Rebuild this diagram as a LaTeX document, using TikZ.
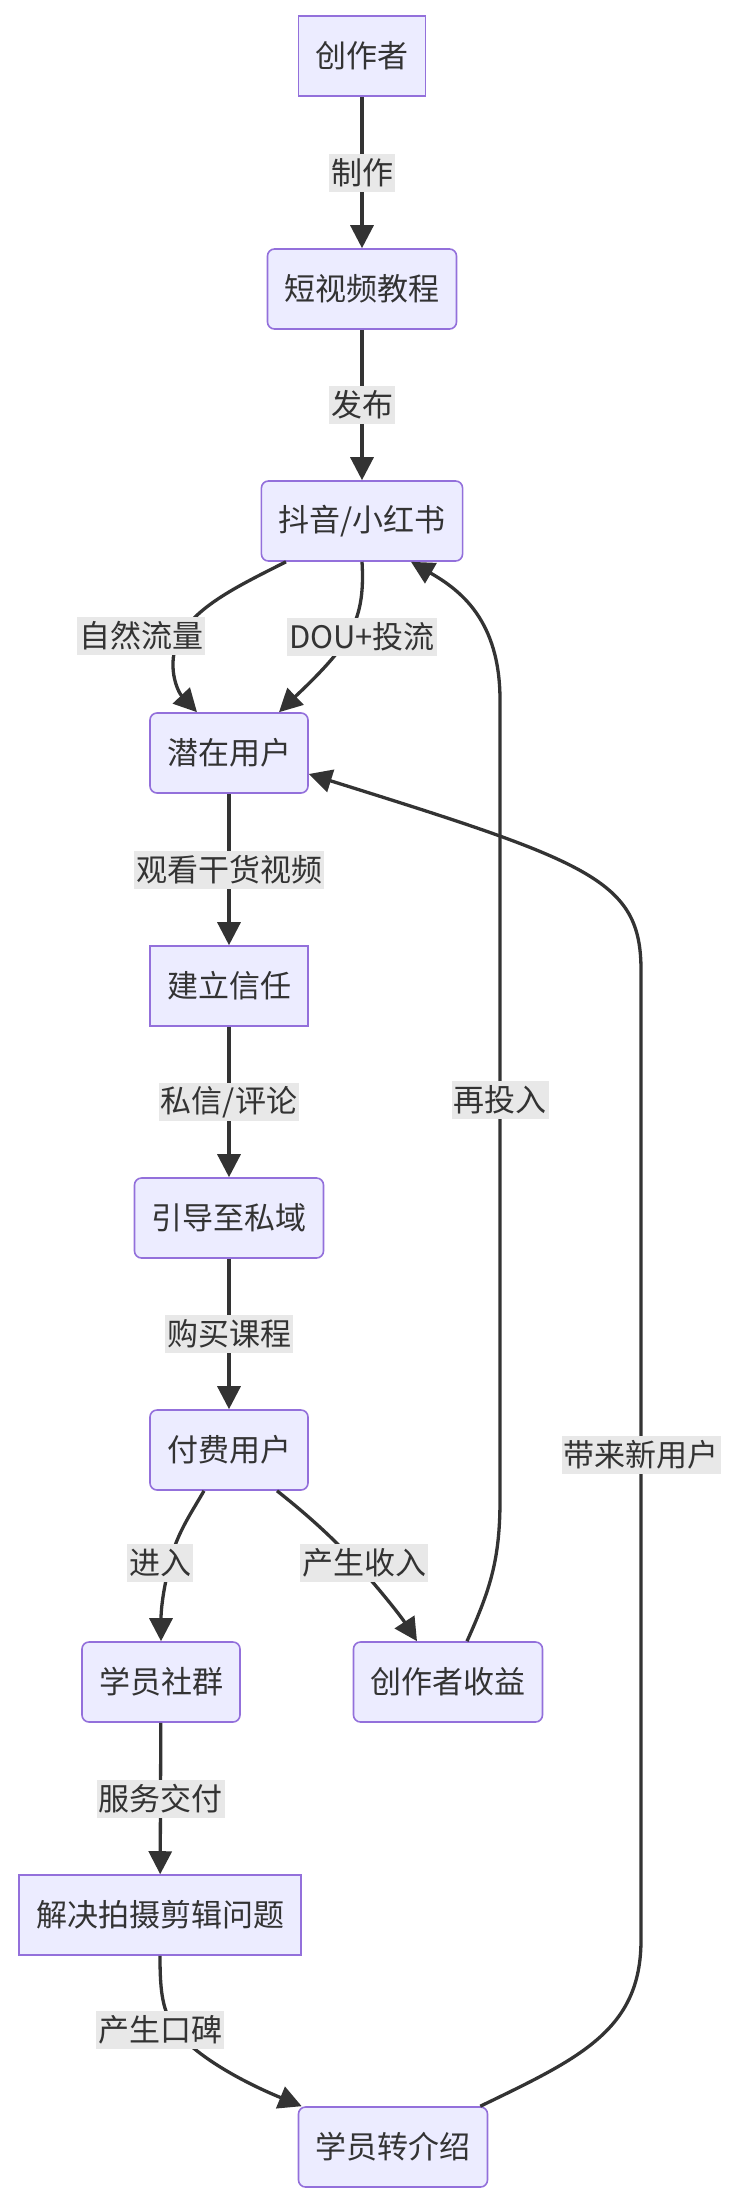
\documentclass[tikz,border=0pt]{standalone}
\usepackage{fontspec}
\setmainfont{Noto Sans CJK SC}
\usepackage{xcolor}
\usetikzlibrary{arrows.meta}
\definecolor{nodefill}{HTML}{ECECFF}
\definecolor{nodedraw}{HTML}{9370DB}
\definecolor{edgecol}{HTML}{333333}
\definecolor{lblfill}{HTML}{E8E8E8}

\begin{document}
\begin{tikzpicture}[
  font=\fontsize{15.5}{18}\selectfont, x=0.5pt, y=-0.5pt,
  box/.style={draw=nodedraw, fill=nodefill, line width=0.8pt, text=edgecol, align=center, inner xsep=8.5pt, inner ysep=0pt, minimum height=40pt},
  sqbox/.style={box},
  rdbox/.style={box, rounded corners=3.5pt},
  lbl/.style={fill=lblfill, text=edgecol, inner xsep=1pt, inner ysep=0pt, minimum height=19pt},
  ar/.style={-{Triangle[length=11.5pt, width=11.5pt]}, edgecol, line width=1.65pt},
]
\useasboundingbox (0,0) rectangle (740,2206);
% --- main column ---
\node[sqbox] (cz) at (362,56)   {创作者};
\node[rdbox] (jc) at (362,289)  {短视频教程};
\node[rdbox] (dy) at (362,521)  {抖音/小红书};
\node[rdbox] (qz) at (229,753)  {潜在用户};
\node[sqbox] (xr) at (229,986)  {建立信任};
\node[rdbox] (yd) at (229,1218) {引导至私域};
\node[rdbox] (ff) at (229,1450) {付费用户};
% --- split after payment ---
\node[rdbox] (sq) at (161,1682) {学员社群};
\node[rdbox] (sy) at (448,1682) {创作者收益};
\node[sqbox] (jj) at (160,1915) {解决拍摄剪辑问题};
\node[rdbox] (zj) at (393,2147) {学员转介绍};
% --- straight edges ---
\draw[ar] (cz) -- node[lbl] {制作} (jc);
\draw[ar] (jc) -- node[lbl] {发布} (dy);
\draw[ar] (qz) -- node[lbl] {观看干货视频} (xr);
\draw[ar] (xr) -- node[lbl] {私信/评论} (yd);
\draw[ar] (yd) -- node[lbl] {购买课程} (ff);
\draw[ar] (sq) -- node[lbl] {服务交付} (jj);
% --- curved edges ---
\draw[ar] ([xshift=-38pt]dy.south) .. controls (240,585) and (198,605) .. (180,636)
  node[lbl, xshift=-19.5pt] {自然流量}
  .. controls (165,665) and (178,692) .. ([xshift=-16pt]qz.north);
\draw[ar] (dy.south) .. controls (364,595) and (360,615) .. (348,637)
  node[lbl, xshift=7pt] {DOU+投流}
  .. controls (335,660) and (300,692) .. ([xshift=25pt]qz.north);
\draw[ar] ([xshift=-12.5pt]ff.south) .. controls (190,1515) and (176,1535) .. (170,1563)
  node[lbl, xshift=-5pt] {进入}
  .. controls (163,1590) and (161,1610) .. (sq.north);
\draw[ar] ([xshift=24pt]ff.south) .. controls (305,1513) and (330,1535) .. (356,1563)
  node[lbl, xshift=4pt] {产生收入}
  .. controls (380,1590) and (400,1615) .. ([xshift=-15.5pt]sy.north);
\draw[ar] (jj.south) .. controls (160,1995) and (163,2010) .. (175,2030)
  node[lbl, xshift=-7.5pt] {产生口碑}
  .. controls (200,2060) and (250,2085) .. ([xshift=2pt]zj.north west);
% --- feedback loops ---
\draw[ar] ([xshift=9.5pt]sy.north) .. controls (490,1590) and (500,1560) .. (500,1500)
  -- node[lbl] {再投入} (500,700)
  .. controls (500,620) and (460,590) .. ([xshift=24.5pt]dy.south);
\draw[ar] ([xshift=-4pt]zj.north east) .. controls (580,2058) and (641,2030) .. (641,1940)
  -- node[lbl] {带来新用户} (641,970)
  .. controls (641,880) and (590,862) .. ([yshift=-10.5pt]qz.east);
\end{tikzpicture}
\end{document}
